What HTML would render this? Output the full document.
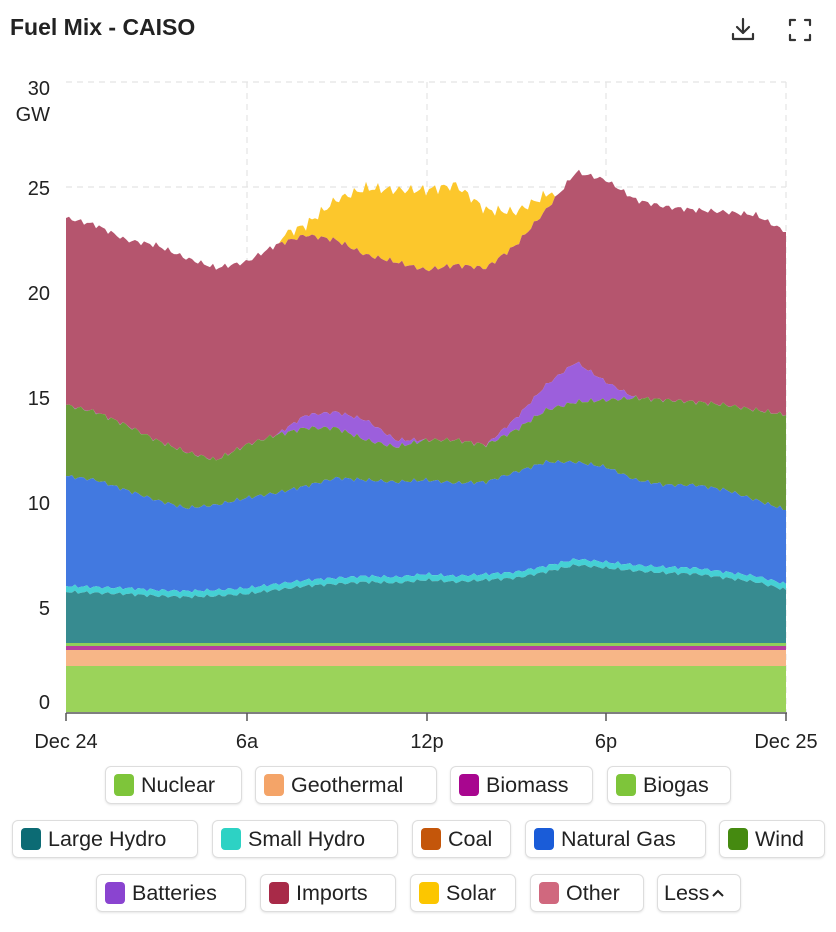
<!DOCTYPE html>
<html><head><meta charset="utf-8"><style>
body{margin:0;background:#fff;width:836px;height:932px;overflow:hidden;font-family:"Liberation Sans",sans-serif;position:relative}
.t{position:absolute;left:10px;top:14px;font-size:23px;font-weight:bold;color:#222}
.lg{position:absolute;height:38px;border:1.5px solid #ddd;border-radius:6px;box-sizing:border-box;font-size:21.5px;color:#222;display:flex;align-items:center;padding-left:8px;box-shadow:0 1px 2px rgba(0,0,0,.1)}
.lg i{display:inline-block;width:20px;height:22px;border-radius:4px;margin-right:7px}
</style></head><body>
<div class="t">Fuel Mix - CAISO</div>
<svg style="position:absolute;left:730px;top:16px" width="90" height="30" viewBox="0 0 90 30">
<g fill="none" stroke="#333" stroke-width="2.2" stroke-linecap="round" stroke-linejoin="round">
<path d="M13 3v14M7 11l6 6 6-6M3 18v5h20v-5"/>
<path d="M60 9V4h5M75 4h5v5M80 19v5h-5M65 24h-5v-5"/></g></svg>
<svg id="c" style="position:absolute;left:0;top:0" width="836" height="760">
<g stroke="#e4e4e4" stroke-dasharray="6 5" stroke-width="1.2">
<line x1="66" x2="786" y1="82" y2="82"/><line x1="66" x2="786" y1="187" y2="187"/><line x1="66" x2="786" y1="292" y2="292"/><line x1="66" x2="786" y1="397" y2="397"/><line x1="66" x2="786" y1="502" y2="502"/><line x1="66" x2="786" y1="607" y2="607"/>
<line x1="247" x2="247" y1="82" y2="712"/><line x1="427" x2="427" y1="82" y2="712"/><line x1="606" x2="606" y1="82" y2="712"/><line x1="786" x2="786" y1="82" y2="712"/>
</g>
<g id="areas"></g>
<g stroke="#555" stroke-width="1.5"><line x1="66" x2="787" y1="713" y2="713"/>
<line x1="66" x2="66" y1="713" y2="721"/><line x1="247" x2="247" y1="713" y2="721"/><line x1="427" x2="427" y1="713" y2="721"/><line x1="606" x2="606" y1="713" y2="721"/><line x1="786" x2="786" y1="713" y2="721"/></g>
<g font-size="20" fill="#222" text-anchor="end">
<text x="50" y="95">30</text><text x="50" y="121">GW</text><text x="50" y="195">25</text><text x="50" y="300">20</text><text x="50" y="405">15</text><text x="50" y="510">10</text><text x="50" y="615">5</text><text x="50" y="709">0</text></g>
<g font-size="20" fill="#222" text-anchor="middle">
<text x="66" y="748">Dec 24</text><text x="247" y="748">6a</text><text x="427" y="748">12p</text><text x="606" y="748">6p</text><text x="786" y="748">Dec 25</text></g>
</svg>
<div class="lg" style="left:105px;top:766px;width:137px"><i style="background:#7ec53a"></i>Nuclear</div>
<div class="lg" style="left:255px;top:766px;width:182px"><i style="background:#f4a468"></i>Geothermal</div>
<div class="lg" style="left:450px;top:766px;width:143px"><i style="background:#a8068f"></i>Biomass</div>
<div class="lg" style="left:607px;top:766px;width:124px"><i style="background:#7ec53a"></i>Biogas</div>
<div class="lg" style="left:12px;top:820px;width:186px"><i style="background:#0c6b74"></i>Large Hydro</div>
<div class="lg" style="left:212px;top:820px;width:186px"><i style="background:#2dd2c4"></i>Small Hydro</div>
<div class="lg" style="left:412px;top:820px;width:99px"><i style="background:#c4560a"></i>Coal</div>
<div class="lg" style="left:525px;top:820px;width:181px"><i style="background:#1a5cd8"></i>Natural Gas</div>
<div class="lg" style="left:719px;top:820px;width:106px"><i style="background:#458a10"></i>Wind</div>
<div class="lg" style="left:96px;top:874px;width:150px"><i style="background:#8a44d0"></i>Batteries</div>
<div class="lg" style="left:260px;top:874px;width:136px"><i style="background:#a82a48"></i>Imports</div>
<div class="lg" style="left:410px;top:874px;width:106px"><i style="background:#fcc600"></i>Solar</div>
<div class="lg" style="left:530px;top:874px;width:114px"><i style="background:#d0687e"></i>Other</div>
<div class="lg" style="left:657px;top:874px;width:84px;padding-left:6px">Less<svg width="14" height="12" style="margin-left:2px"><path d="M2 9l5-5 5 5" fill="none" stroke="#222" stroke-width="2"/></svg></div>
<script>
function X(h){return 66+30*h}
var LH=[592,593,594,596,597,596,594,590,586,584,582,583,580,582,580,578,572,565,568,571,573,574,578,582,590];
var NG=[476,480,490,500,508,505,498,493,486,478,480,482,480,483,482,472,462,462,467,480,485,485,490,500,510];
var WI=[405,412,425,440,452,460,445,435,428,428,440,447,440,440,445,430,410,402,400,398,400,402,405,410,415];
var BA=WI.slice();BA[8]=415;BA[9]=412;BA[10]=420;BA[11]=440;BA[15]=418;BA[16]=385;BA[17]=362;BA[18]=382;BA[19]=398;
var IM=[218,225,240,245,258,268,262,245,235,240,255,262,270,265,268,245,210,172,180,200,207,210,212,215,232];
var SO=IM.slice();SO[7]=238;SO[8]=225;SO[9]=200;SO[10]=188;SO[11]=190;SO[12]=190;SO[13]=185;SO[14]=210;SO[15]=212;SO[16]=195;
function nz(i,a){return a*Math.sin(i*1.7)+a*0.6*Math.sin(i*3.3+1)}
function sample(arr,amp,seed){var p=[];for(var k=0;k<=240;k++){var h=k/10,i=Math.min(Math.floor(h),23),f=h-i;var v=arr[i]*(1-f)+arr[i+1]*f;if(k>0&&k<240)v+=nz(k+seed,amp);p.push([X(h),v]);}return p}
function area(top,bot,col){var d="M"+top.map(function(p){return p[0].toFixed(1)+","+p[1].toFixed(1)}).join("L");for(var i=bot.length-1;i>=0;i--)d+="L"+bot[i][0].toFixed(1)+","+bot[i][1].toFixed(1);return '<path d="'+d+'Z" fill="'+col+'"/>'}
function flat(y){var p=[];for(var k=0;k<=240;k++)p.push([X(k/10),y]);return p}
var lh=sample(LH,1.2,0),sh=lh.map(function(p){return[p[0],p[1]-6]}),ng=sample(NG,1.5,5),wi=sample(WI,1.8,9),ba=sample(BA,1.5,9),im=sample(IM,2,13),so=sample(SO,4,21);
for(var k=0;k<=240;k++){if(ba[k][1]>wi[k][1])ba[k][1]=wi[k][1];if(so[k][1]>im[k][1]||k<72||k>162)so[k][1]=im[k][1];}
var s="";
s+=area(so,im,"#fcc72c");
s+=area(im,ba,"#b5556e");
s+=area(ba,wi,"#9c5fdc");
s+=area(wi,ng,"#6a9a3a");
s+=area(ng,sh,"#4279e0");
s+=area(sh,lh,"#45d0d4");
s+=area(lh,flat(643),"#378b90");
s+=area(flat(643),flat(646),"#8fd05a");
s+=area(flat(646),flat(650),"#b63fa0");
s+=area(flat(650),flat(666),"#f7b687");
s+=area(flat(666),flat(712),"#9bd35a");
document.getElementById("areas").innerHTML=s;
</script>
</body></html>
